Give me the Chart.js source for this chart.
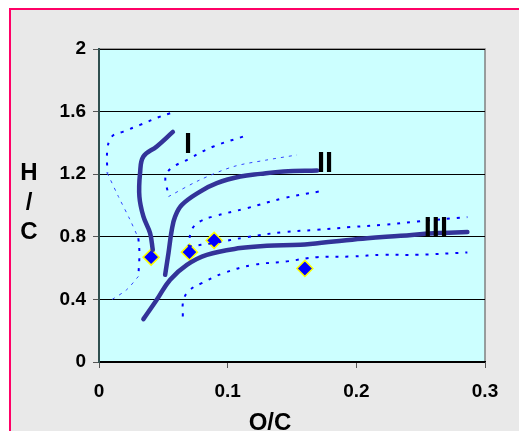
<!DOCTYPE html>
<html>
<head>
<meta charset="utf-8">
<script src="https://cdn.jsdelivr.net/npm/chart.js@4"></script>
<style>
  body { margin: 0; background: #fff; }
  canvas { display: block; }
</style>
</head>
<body>
<canvas id="grafico" width="519" height="431"></canvas>
<script>
// Curvas principais (tipos I, II, III)
const curvaIX = [0.0574, 0.0449, 0.0345, 0.0319, 0.0314, 0.0345, 0.0397, 0.0418];
const curvaIY = [1.47, 1.377, 1.313, 1.206, 1.057, 0.93, 0.823, 0.717];

const curvaIIX = [0.0514, 0.054, 0.0566, 0.0592, 0.0644, 0.0786, 0.0916, 0.1098, 0.1254, 0.1435, 0.1695];
const curvaIIY = [0.557, 0.696, 0.845, 0.93, 1.004, 1.089, 1.143, 1.185, 1.202, 1.217, 1.223];

const curvaIIIX = [0.0345, 0.0449, 0.0553, 0.0683, 0.0838, 0.1098, 0.1305, 0.1565, 0.1825, 0.2084, 0.2344, 0.2603, 0.2863];
const curvaIIIY = [0.274, 0.398, 0.526, 0.621, 0.685, 0.728, 0.743, 0.749, 0.770, 0.791, 0.806, 0.823, 0.830];

// Envoltorias pontilhadas
const envAX = [0.0553, 0.0475, 0.0319, 0.0189, 0.0099, 0.0065, 0.0065];
const envAY = [1.589, 1.568, 1.515, 1.472, 1.44, 1.355, 1.206];
const envAfinoX = [0.0065, 0.0151, 0.0241, 0.0306];
const envAfinoY = [1.206, 1.057, 0.909, 0.791];
const envBX = [0.0306, 0.0314, 0.0306];
const envBY = [0.791, 0.696, 0.547];
const envBfinoX = [0.0306, 0.0215, 0.0099];
const envBfinoY = [0.547, 0.462, 0.398];

const envCX = [0.1119, 0.089, 0.0709, 0.0527, 0.054];
const envCY = [1.44, 1.377, 1.302, 1.206, 1.057];
const envCfinoX = [0.054, 0.0786, 0.1046, 0.1305, 0.1539];
const envCfinoY = [1.057, 1.164, 1.249, 1.291, 1.323];

const envDX = [0.1708, 0.1435, 0.115, 0.089, 0.0786, 0.0721, 0.0696];
const envDY = [1.089, 1.047, 0.983, 0.93, 0.898, 0.845, 0.738];
const envEX = [0.0696, 0.089, 0.115, 0.1435, 0.1695, 0.1954, 0.2214, 0.2473, 0.2863];
const envEY = [0.738, 0.76, 0.798, 0.83, 0.845, 0.862, 0.877, 0.898, 0.926];

const envFX = [0.0651, 0.0657, 0.0709, 0.0799, 0.0968, 0.1202, 0.1461, 0.1695, 0.1954, 0.2214, 0.2473, 0.2863];
const envFY = [0.291, 0.398, 0.462, 0.504, 0.568, 0.621, 0.643, 0.670, 0.674, 0.685, 0.685, 0.700];

// Amostras
const amostrasX = [0.0405, 0.0703, 0.0895, 0.16];
const amostrasY = [0.670, 0.702, 0.777, 0.598];

// Rotulos das curvas
const rotulos = ['I', 'II', 'III'];
const rotulosX = [0.0692, 0.1756, 0.2618];
const rotulosY = [1.387, 1.268, 0.85];

const juntar = (xs, ys) => xs.map((x, i) => ({ x: x, y: ys[i] }));

const solida = (xs, ys) => ({
  data: juntar(xs, ys), showLine: true, pointRadius: 0,
  borderColor: '#333399', borderWidth: 4.5, tension: 0.4, borderCapStyle: 'round'
});
const pontilhada = (xs, ys) => ({
  data: juntar(xs, ys), showLine: true, pointRadius: 0,
  borderColor: '#0000ff', borderWidth: 2, borderDash: [3, 7], tension: 0.4
});
const fina = (xs, ys) => ({
  data: juntar(xs, ys), showLine: true, pointRadius: 0,
  borderColor: '#3344ff', borderWidth: 1, borderDash: [3, 5], tension: 0.3
});

const fundo = {
  id: 'fundo',
  beforeDraw(chart) {
    const ctx = chart.ctx;
    const a = chart.chartArea;
    ctx.save();
    ctx.fillStyle = '#ffffff';
    ctx.fillRect(0, 0, chart.width, chart.height);
    ctx.fillStyle = '#e9e9e9';
    ctx.fillRect(10, 9, chart.width, chart.height);
    ctx.fillStyle = '#ff0066';
    ctx.fillRect(9, 8, 2, chart.height);
    ctx.fillRect(9, 8, chart.width, 2);
    ctx.fillStyle = '#ccffff';
    ctx.fillRect(a.left, a.top, a.right - a.left, a.bottom - a.top);
    ctx.strokeStyle = '#808080';
    ctx.lineWidth = 1.5;
    ctx.beginPath();
    ctx.moveTo(a.left, a.top);
    ctx.lineTo(a.right, a.top);
    ctx.lineTo(a.right, a.bottom);
    ctx.stroke();
    ctx.restore();
  },
  afterDraw(chart) {
    const ctx = chart.ctx;
    const sx = chart.scales.x, sy = chart.scales.y;
    ctx.save();
    ctx.fillStyle = '#000';
    ctx.textAlign = 'center';
    ctx.textBaseline = 'middle';
    ctx.font = 'bold 29px "Liberation Sans", Arial, sans-serif';
    rotulos.forEach((t, i) => {
      ctx.fillText(t, sx.getPixelForValue(rotulosX[i]), sy.getPixelForValue(rotulosY[i]));
    });
    ctx.font = 'bold 24px "Liberation Sans", Arial, sans-serif';
    ctx.fillText('H', 29, 173);
    ctx.fillText('/', 29, 203);
    ctx.fillText('C', 29, 232);
    ctx.textBaseline = 'alphabetic';
    ctx.fillText('O/C', 270, 430);
    ctx.restore();
  }
};

new Chart(document.getElementById('grafico'), {
  type: 'scatter',
  data: {
    datasets: [
      pontilhada(envAX, envAY), fina(envAfinoX, envAfinoY),
      pontilhada(envBX, envBY), fina(envBfinoX, envBfinoY),
      pontilhada(envCX, envCY), fina(envCfinoX, envCfinoY),
      pontilhada(envDX, envDY), pontilhada(envEX, envEY),
      pontilhada(envFX, envFY),
      solida(curvaIX, curvaIY),
      solida(curvaIIX, curvaIIY),
      solida(curvaIIIX, curvaIIIY),
      {
        data: juntar(amostrasX, amostrasY),
        pointStyle: 'rectRot', pointRadius: 8,
        backgroundColor: '#0000ff', borderColor: '#ffff00', borderWidth: 1.5
      }
    ]
  },
  plugins: [fundo],
  options: {
    responsive: false,
    animation: false,
    layout: { padding: { top: 49, right: 34, left: 0, bottom: 0 } },
    plugins: { legend: { display: false }, tooltip: { enabled: false } },
    scales: {
      x: {
        type: 'linear', min: 0, max: 0.3,
        afterFit: s => { s.height = 69; },
        ticks: {
          stepSize: 0.1, padding: 12, color: '#000',
          font: { family: '"Liberation Sans", Arial, sans-serif', size: 19, weight: 'bold' },
          callback: v => String(Number(v.toFixed(1)))
        },
        grid: { drawOnChartArea: false, drawTicks: true, tickLength: 6, color: '#555', tickColor: '#555' },
        border: { color: '#000', width: 1.5 }
      },
      y: {
        type: 'linear', min: 0, max: 2,
        afterFit: s => { s.width = 99; },
        ticks: {
          stepSize: 0.4, padding: 7, color: '#000',
          font: { family: '"Liberation Sans", Arial, sans-serif', size: 19, weight: 'bold' },
          callback: v => String(Number(v.toFixed(1)))
        },
        grid: { color: '#000', lineWidth: 1, drawTicks: true, tickLength: 6, tickColor: '#555' },
        border: { color: '#2f4f4f', width: 2 }
      }
    }
  }
});
</script>
</body>
</html>
